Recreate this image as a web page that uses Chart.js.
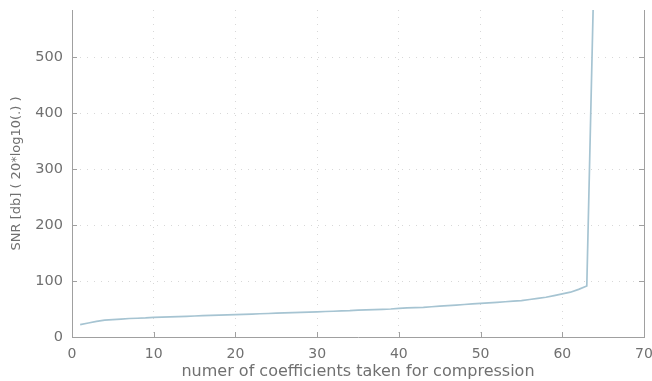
<!DOCTYPE html>
<html>
<head>
<meta charset="utf-8">
<script src="https://cdn.jsdelivr.net/npm/chart.js@4"></script>
<style>
  html, body { margin: 0; padding: 0; background: #fff; }
  #wrap { width: 652px; height: 381px; }
</style>
</head>
<body>
<div id="wrap"><canvas id="snrChart" width="652" height="381"></canvas></div>
<script>
// number of coefficients kept
var coefs = [1, 2, 3, 4, 5, 6, 7, 8, 9, 10, 11, 12, 13, 14, 15, 16, 17, 18, 19, 20,
    21, 22, 23, 24, 25, 26, 27, 28, 29, 30, 31, 32, 33, 34, 35, 36, 37, 38, 39, 40,
    41, 42, 43, 44, 45, 46, 47, 48, 49, 50, 51, 52, 53, 54, 55, 56, 57, 58, 59, 60,
    61, 62, 63, 64];
// SNR in dB
var snr = [22, 25, 28, 30, 31, 32, 33, 33.5, 34, 35, 35.5, 36, 36.5, 37, 37.5, 38, 38.5, 39, 39.5, 40,
    40.5, 41, 41.5, 42, 42.5, 43, 43.5, 44, 44.5, 45, 45.5, 46, 46.5, 47, 48, 48.5, 49, 49.5, 50, 51,
    52, 52.5, 53, 54, 55, 56, 57, 58, 59, 60, 61, 62, 63, 64, 65, 67, 69, 71, 74, 77,
    80, 85, 91, 730];
var xTicks = [0, 10, 20, 30, 40, 50, 60, 70];
var yTicks = [0, 100, 200, 300, 400, 500];

var axisGrey = '#a0a0a0';
var textGrey = '#707070';

// matlab style ticks pointing into the plot
const innerTicks = {
    id: 'innerTicks',
    afterDraw(chart) {
        var ctx = chart.ctx;
        var a = chart.chartArea;
        var xs = chart.scales.x, ys = chart.scales.y;
        ctx.save();
        ctx.strokeStyle = axisGrey;
        ctx.lineWidth = 1;
        ctx.beginPath();
        xTicks.forEach(function (v) {
            var px = Math.round(xs.getPixelForValue(v)) + 0.5;
            ctx.moveTo(px, a.bottom);
            ctx.lineTo(px, a.bottom - 5);
        });
        yTicks.forEach(function (v) {
            var py = Math.round(ys.getPixelForValue(v)) + 0.5;
            ctx.moveTo(a.left, py);
            ctx.lineTo(a.left + 5, py);
            ctx.moveTo(a.right, py);
            ctx.lineTo(a.right - 5, py);
        });
        ctx.stroke();
        ctx.restore();
    }
};

new Chart('snrChart', {
    type: 'line',
    data: {
        datasets: [{
            data: coefs.map(function (c, i) { return { x: c, y: snr[i] }; }),
            borderColor: '#a6c4d2',
            borderWidth: 1.7,
            pointRadius: 0,
            tension: 0,
            fill: false
        }]
    },
    options: {
        responsive: false,
        animation: false,
        layout: { padding: { left: 0, top: 10, right: 8, bottom: 0 } },
        plugins: {
            legend: { display: false },
            tooltip: { enabled: false }
        },
        scales: {
            x: {
                type: 'linear',
                min: 0,
                max: 70,
                afterBuildTicks: function (s) { s.ticks = xTicks.map(function (v) { return { value: v }; }); },
                afterFit: function (s) { s.height = 44; s.paddingLeft = 0; s.paddingRight = 0; },
                grid: { color: '#d8d8d8', drawTicks: false },
                border: { color: axisGrey, width: 1, dash: [1, 6] },
                ticks: {
                    color: textGrey,
                    padding: 9,
                    font: { family: 'DejaVu Sans', size: 14 },
                    maxRotation: 0
                },
                title: {
                    display: true,
                    text: 'numer of coefficients taken for compression',
                    color: textGrey,
                    font: { family: 'DejaVu Sans', size: 16 },
                    padding: { top: 0, bottom: 0 }
                }
            },
            y: {
                min: 0,
                max: 584,
                afterBuildTicks: function (s) { s.ticks = yTicks.map(function (v) { return { value: v }; }); },
                afterFit: function (s) { s.width = 72; s.paddingTop = 0; s.paddingBottom = 0; },
                grid: { color: '#d8d8d8', drawTicks: false },
                border: { color: axisGrey, width: 1, dash: [1, 6] },
                ticks: {
                    color: textGrey,
                    padding: 9,
                    font: { family: 'DejaVu Sans', size: 14.5 }
                },
                title: {
                    display: true,
                    text: 'SNR [db] ( 20*log10(.) )',
                    color: textGrey,
                    font: { family: 'DejaVu Sans', size: 13 },
                    padding: { top: 9, bottom: 0 }
                }
            },
            y2: {
                position: 'right',
                min: 0,
                max: 584,
                afterFit: function (s) { s.width = 0; s.paddingTop = 0; s.paddingBottom = 0; },
                grid: { display: false, drawTicks: false },
                border: { color: axisGrey, width: 1 },
                ticks: { display: false }
            }
        }
    },
    plugins: [innerTicks]
});
</script>
</body>
</html>
